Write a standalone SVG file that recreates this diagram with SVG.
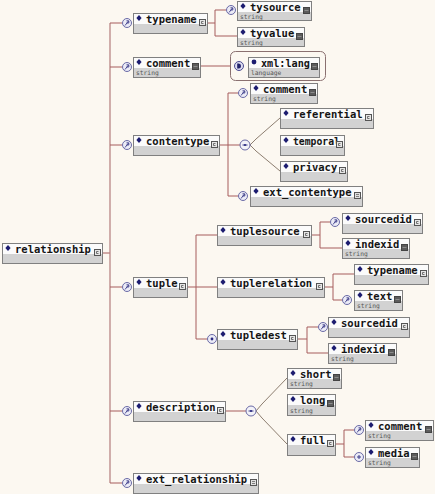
<svg xmlns="http://www.w3.org/2000/svg" xmlns:xlink="http://www.w3.org/1999/xlink" width="435" height="494" viewBox="0 0 435 494">
<style>
.bx{fill:#d2d2d2;stroke:#808080;stroke-width:1}
.hd{fill:#fbfbfb}
.nm{font-family:"DejaVu Sans Mono",monospace;font-weight:bold;font-size:10.5px;fill:#141414}
.ty{font-family:"DejaVu Sans Mono",monospace;font-size:6.3px;fill:#555}
.ln{stroke:#a65c5c;stroke-width:1;fill:none}
.mn{stroke:#b98585;stroke-width:1.3;fill:none}
.ch{stroke:#8d7e70;stroke-width:1;fill:none}
.grp{fill:none;stroke:#8a7070;stroke-width:1}
</style>
<defs>
<polygon id="dia" points="0,-3 2.6,0 0,3 -2.6,0" fill="#1c1c70"/>
<g id="ic-c"><rect x="0.5" y="0.5" width="6" height="6" fill="#e6e6e6" stroke="#555"/><path d="M4.5,2.5 H2.5 V4.5 H4.5" stroke="#555" fill="none" stroke-width="0.8"/></g>
<g id="ic-s"><rect x="0.5" y="0.5" width="6" height="6" fill="#5c5c5c" stroke="#444"/><path d="M1.5,3.5 H5.5" stroke="#999" stroke-width="0.8"/></g>
<g id="ic-e"><rect x="0.5" y="0.5" width="6" height="6" fill="#e0e0e0" stroke="#555"/><path d="M2,2.5 H5 M2,4.5 H5" stroke="#666" stroke-width="0.8"/></g>
<g id="ip"><circle r="4.5" fill="#ebebf6" stroke="#6a6aa6"/><path d="M-2,2.5 L1.5,-2 M-0.5,-2.2 H1.8 V0 H-0.5" stroke="#3a3a88" stroke-width="0.9" fill="none"/></g>
<g id="io"><circle r="4.5" fill="#ebebf6" stroke="#6a6aa6"/><circle r="1.4" fill="#2a2a80"/></g>
<g id="iplus"><circle r="4.5" fill="#ebebf6" stroke="#6a6aa6"/><path d="M-2,0 H2 M0,-2 V2" stroke="#2a2a80" stroke-width="0.9"/></g>
<g id="ich"><circle r="5" fill="#f2f2f8" stroke="#6a6aa6"/><path d="M-2.5,0 H2.5" stroke="#2a2a80" stroke-width="0.9"/><circle r="1.1" fill="#2a2a80"/></g>
<g id="id"><circle r="4.5" fill="#dcdcf0" stroke="#4a4a90"/><path d="M-1.8,-2.5 V2.5 H-0.2 A2.2,2.5 0 0 0 -0.2,-2.5 Z" fill="#22226a"/></g>
</defs>
<rect x="0" y="0" width="435" height="494" fill="#fcf8f1"/>

<g id="connectors">
<path class="ln" d="M102,253 H110"/>
<path class="mn" d="M110,23 V483"/>
<path class="ln" d="M110,23 H122 M110,67 H122 M110,145 H122 M110,287 H122 M110,411 H122 M110,483 H122"/>
<path class="ln" d="M207,23 H215 M215,10 V36 M215,10 H226 M215,36 H237"/>
<path class="ln" d="M200,66 H230"/>
<path class="ln" d="M219,145 H240 M228,93 V196 M228,93 H238 M228,196 H238"/>
<path class="ch" d="M250,145 L256,139 L280,118 M250,145 L256,151 L280,171"/>
<path class="ln" d="M187,287 H196 M196,235 V339 M196,235 H217 M196,287 H217 M196,339 H207"/>
<path class="ln" d="M311,235 H320 M320,222 V248 M320,222 H330 M320,248 H342"/>
<path class="ln" d="M324,287 H333 M333,274 V300 M333,274 H354 M333,300 H342"/>
<path class="ln" d="M297,339 H307 M307,327 V353 M307,327 H318 M307,353 H328"/>
<path class="ln" d="M225,411 H246"/>
<path class="ch" d="M256,411 L262,404 L287,378 M256,411 L262,418 L287,444"/>
<path class="ln" d="M335,444 H344 M344,430 V457 M344,430 H354 M344,457 H354"/>
</g>

<g id="n-relationship" transform="translate(2,243)"><rect class="bx" x="0.5" y="0.5" width="100" height="20"/><rect class="hd" x="1" y="1" width="99" height="10"/><use href="#dia" x="6" y="5"/><text class="nm" x="13" y="9.5">relationship</text><use href="#ic-c" x="92" y="6"/></g>

<g id="n-typename" transform="translate(133,13)"><use href="#ip" x="-6" y="10"/><rect class="bx" x="0.5" y="0.5" width="74" height="20"/><rect class="hd" x="1" y="1" width="73" height="10"/><use href="#dia" x="6" y="5"/><text class="nm" x="13" y="9.5">typename</text><use href="#ic-c" x="66" y="6"/></g>

<g id="n-tysource" transform="translate(237,1)"><use href="#ip" x="-6" y="9"/><rect class="bx" x="0.5" y="0.5" width="74" height="19"/><rect class="hd" x="1" y="1" width="73" height="10"/><use href="#dia" x="6" y="5"/><text class="nm" x="13" y="9.5">tysource</text><use href="#ic-s" x="66" y="6"/><text class="ty" x="3" y="17.5">string</text></g>

<g id="n-tyvalue" transform="translate(237,27)"><rect class="bx" x="0.5" y="0.5" width="67" height="19"/><rect class="hd" x="1" y="1" width="66" height="10"/><use href="#dia" x="6" y="5"/><text class="nm" x="13" y="9.5">tyvalue</text><use href="#ic-s" x="59" y="6"/><text class="ty" x="3" y="17.5">string</text></g>

<g id="n-comment" transform="translate(133,57)"><use href="#ip" x="-6" y="10"/><rect class="bx" x="0.5" y="0.5" width="67" height="20"/><rect class="hd" x="1" y="1" width="66" height="10"/><use href="#dia" x="6" y="5"/><text class="nm" x="13" y="9.5">comment</text><use href="#ic-s" x="59" y="6"/><text class="ty" x="3" y="18">string</text></g>

<g id="n-xmllang"><rect class="grp" x="230.5" y="51.5" width="95" height="29" rx="5"/><use href="#id" x="239" y="66"/><g transform="translate(248,57)"><rect class="bx" x="0.5" y="0.5" width="71" height="20"/><rect class="hd" x="1" y="1" width="70" height="10"/><circle cx="6" cy="5" r="2.4" fill="#1c1c70"/><text class="nm" x="13" y="9.5" textLength="49" lengthAdjust="spacingAndGlyphs">xml:lang</text><use href="#ic-s" x="63" y="6"/><text class="ty" x="3" y="18">language</text></g></g>

<g id="n-contentype" transform="translate(133,135)"><use href="#ip" x="-6" y="10"/><rect class="bx" x="0.5" y="0.5" width="86" height="20"/><rect class="hd" x="1" y="1" width="85" height="10"/><use href="#dia" x="6" y="5"/><text class="nm" x="13" y="9.5">contentype</text><use href="#ic-c" x="78" y="6"/></g>

<g id="n-comment2" transform="translate(250,83)"><use href="#ip" x="-7" y="10"/><rect class="bx" x="0.5" y="0.5" width="67" height="20"/><rect class="hd" x="1" y="1" width="66" height="10"/><use href="#dia" x="6" y="5"/><text class="nm" x="13" y="9.5">comment</text><use href="#ic-s" x="59" y="6"/><text class="ty" x="3" y="18">string</text></g>

<g id="n-choice1"><use href="#ich" x="245" y="145"/></g>

<g id="n-referential" transform="translate(280,108)"><rect class="bx" x="0.5" y="0.5" width="93" height="20"/><rect class="hd" x="1" y="1" width="92" height="10"/><use href="#dia" x="6" y="5"/><text class="nm" x="13" y="9.5">referential</text><use href="#ic-c" x="85" y="6"/></g>

<g id="n-temporal" transform="translate(280,135)"><rect class="bx" x="0.5" y="0.5" width="64" height="20"/><rect class="hd" x="1" y="1" width="63" height="10"/><use href="#dia" x="6" y="5"/><text class="nm" x="13" y="9.5" textLength="47" lengthAdjust="spacingAndGlyphs">temporal</text><use href="#ic-c" x="56" y="6"/></g>

<g id="n-privacy" transform="translate(280,161)"><rect class="bx" x="0.5" y="0.5" width="67" height="20"/><rect class="hd" x="1" y="1" width="66" height="10"/><use href="#dia" x="6" y="5"/><text class="nm" x="13" y="9.5">privacy</text><use href="#ic-c" x="59" y="6"/></g>

<g id="n-ext_contentype" transform="translate(250,186)"><use href="#ip" x="-7" y="10"/><rect class="bx" x="0.5" y="0.5" width="112" height="20"/><rect class="hd" x="1" y="1" width="111" height="10"/><use href="#dia" x="6" y="5"/><text class="nm" x="13" y="9.5">ext_contentype</text><use href="#ic-e" x="104" y="6"/></g>

<g id="n-tuple" transform="translate(133,277)"><use href="#ip" x="-6" y="10"/><rect class="bx" x="0.5" y="0.5" width="54" height="20"/><rect class="hd" x="1" y="1" width="53" height="10"/><use href="#dia" x="6" y="5"/><text class="nm" x="13" y="9.5">tuple</text><use href="#ic-c" x="46" y="6"/></g>

<g id="n-tuplesource" transform="translate(217,225)"><rect class="bx" x="0.5" y="0.5" width="94" height="20"/><rect class="hd" x="1" y="1" width="93" height="10"/><use href="#dia" x="6" y="5"/><text class="nm" x="13" y="9.5">tuplesource</text><use href="#ic-c" x="86" y="6"/></g>

<g id="n-sourcedid" transform="translate(342,213)"><use href="#ip" x="-7" y="9"/><rect class="bx" x="0.5" y="0.5" width="80" height="20"/><rect class="hd" x="1" y="1" width="79" height="10"/><use href="#dia" x="6" y="5"/><text class="nm" x="13" y="9.5">sourcedid</text><use href="#ic-c" x="72" y="6"/></g>

<g id="n-indexid" transform="translate(342,238)"><rect class="bx" x="0.5" y="0.5" width="67" height="20"/><rect class="hd" x="1" y="1" width="66" height="10"/><use href="#dia" x="6" y="5"/><text class="nm" x="13" y="9.5">indexid</text><use href="#ic-s" x="59" y="6"/><text class="ty" x="3" y="18">string</text></g>

<g id="n-tuplerelation" transform="translate(217,277)"><rect class="bx" x="0.5" y="0.5" width="107" height="20"/><rect class="hd" x="1" y="1" width="106" height="10"/><use href="#dia" x="6" y="5"/><text class="nm" x="13" y="9.5">tuplerelation</text><use href="#ic-c" x="99" y="6"/></g>

<g id="n-typename2" transform="translate(354,264)"><rect class="bx" x="0.5" y="0.5" width="74" height="20"/><rect class="hd" x="1" y="1" width="73" height="10"/><use href="#dia" x="6" y="5"/><text class="nm" x="13" y="9.5">typename</text><use href="#ic-c" x="66" y="6"/></g>

<g id="n-text" transform="translate(354,290)"><use href="#ip" x="-7" y="10"/><rect class="bx" x="0.5" y="0.5" width="48" height="20"/><rect class="hd" x="1" y="1" width="47" height="10"/><use href="#dia" x="6" y="5"/><text class="nm" x="13" y="9.5">text</text><use href="#ic-s" x="40" y="6"/><text class="ty" x="3" y="18">string</text></g>

<g id="n-tupledest" transform="translate(217,329)"><use href="#io" x="-5" y="10"/><rect class="bx" x="0.5" y="0.5" width="80" height="20"/><rect class="hd" x="1" y="1" width="79" height="10"/><use href="#dia" x="6" y="5"/><text class="nm" x="13" y="9.5">tupledest</text><use href="#ic-c" x="72" y="6"/></g>

<g id="n-sourcedid2" transform="translate(328,317)"><use href="#ip" x="-5" y="10"/><rect class="bx" x="0.5" y="0.5" width="81" height="20"/><rect class="hd" x="1" y="1" width="80" height="10"/><use href="#dia" x="6" y="5"/><text class="nm" x="13" y="9.5">sourcedid</text><use href="#ic-c" x="73" y="6"/></g>

<g id="n-indexid2" transform="translate(328,343)"><rect class="bx" x="0.5" y="0.5" width="68" height="20"/><rect class="hd" x="1" y="1" width="67" height="10"/><use href="#dia" x="6" y="5"/><text class="nm" x="13" y="9.5">indexid</text><use href="#ic-s" x="60" y="6"/><text class="ty" x="3" y="18">string</text></g>

<g id="n-description" transform="translate(133,401)"><use href="#ip" x="-6" y="10"/><rect class="bx" x="0.5" y="0.5" width="92" height="20"/><rect class="hd" x="1" y="1" width="91" height="10"/><use href="#dia" x="6" y="5"/><text class="nm" x="13" y="9.5">description</text><use href="#ic-c" x="84" y="6"/></g>

<g id="n-choice2"><use href="#ich" x="251" y="411"/></g>

<g id="n-short" transform="translate(287,368)"><rect class="bx" x="0.5" y="0.5" width="54" height="20"/><rect class="hd" x="1" y="1" width="53" height="10"/><use href="#dia" x="6" y="5"/><text class="nm" x="13" y="9.5">short</text><use href="#ic-s" x="46" y="6"/><text class="ty" x="3" y="18">string</text></g>

<g id="n-long" transform="translate(287,394)"><rect class="bx" x="0.5" y="0.5" width="48" height="21"/><rect class="hd" x="1" y="1" width="47" height="10"/><use href="#dia" x="6" y="5"/><text class="nm" x="13" y="9.5">long</text><use href="#ic-s" x="40" y="6"/><text class="ty" x="3" y="18.5">string</text></g>

<g id="n-full" transform="translate(287,434)"><rect class="bx" x="0.5" y="0.5" width="48" height="21"/><rect class="hd" x="1" y="1" width="47" height="10"/><use href="#dia" x="6" y="5"/><text class="nm" x="13" y="9.5">full</text><use href="#ic-c" x="40" y="6"/></g>

<g id="n-comment3" transform="translate(365,420)"><use href="#ip" x="-6" y="10"/><rect class="bx" x="0.5" y="0.5" width="68" height="20"/><rect class="hd" x="1" y="1" width="67" height="10"/><use href="#dia" x="6" y="5"/><text class="nm" x="13" y="9.5">comment</text><use href="#ic-s" x="60" y="6"/><text class="ty" x="3" y="18">string</text></g>

<g id="n-media" transform="translate(365,447)"><use href="#iplus" x="-6" y="10"/><rect class="bx" x="0.5" y="0.5" width="54" height="20"/><rect class="hd" x="1" y="1" width="53" height="10"/><use href="#dia" x="6" y="5"/><text class="nm" x="13" y="9.5">media</text><use href="#ic-s" x="46" y="6"/><text class="ty" x="3" y="18">string</text></g>

<g id="n-ext_relationship" transform="translate(133,473)"><use href="#ip" x="-6" y="10"/><rect class="bx" x="0.5" y="0.5" width="125" height="20"/><rect class="hd" x="1" y="1" width="124" height="10"/><use href="#dia" x="6" y="5"/><text class="nm" x="13" y="9.5">ext_relationship</text><use href="#ic-e" x="117" y="6"/></g>
</svg>
